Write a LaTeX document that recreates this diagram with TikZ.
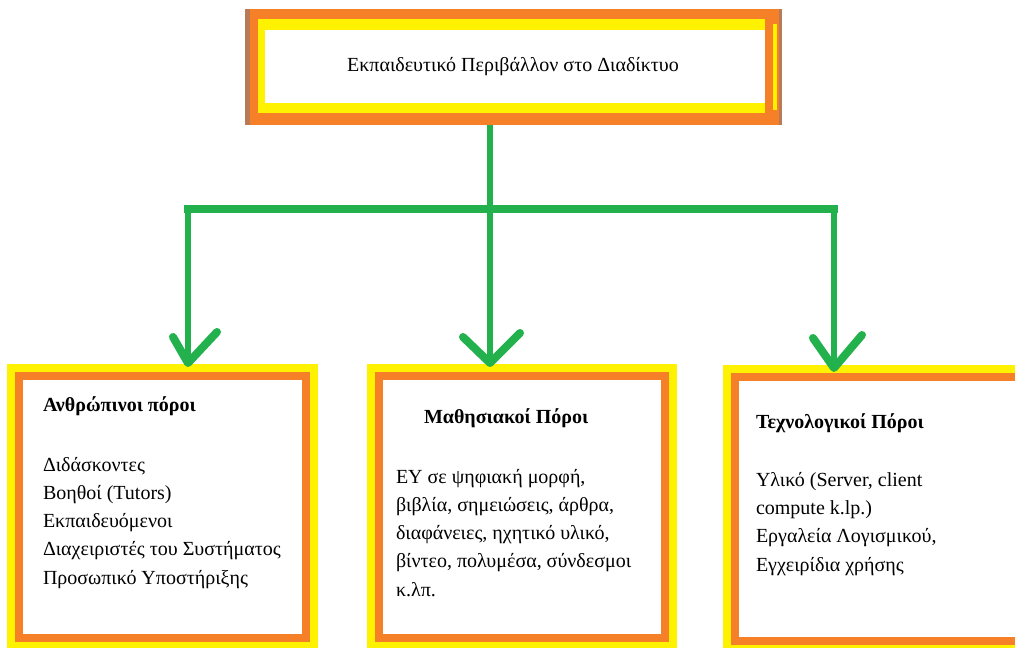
\documentclass[tikz,border=0pt]{standalone}
\usepackage{fontspec}
\setmainfont{Liberation Serif}
\usetikzlibrary{calc}
\definecolor{gr}{HTML}{22B14C}
\definecolor{og}{HTML}{F58027}
\definecolor{yl}{HTML}{FFF200}
\definecolor{br}{HTML}{B97A57}
\begin{document}
\begin{tikzpicture}[x=1pt,y=-1pt,
  box/.style={rectangle, draw=og, line width=8pt, fill=white,
    preaction={draw=yl, line width=24pt}, inner sep=0pt, outer sep=0pt,
    anchor=north west},
  txt/.style={inner sep=0pt, outer sep=0pt, align=left, anchor=base west,
    font=\fontsize{20}{28.2}\selectfont},
  ttl/.style={txt, font=\fontsize{20}{28.2}\selectfont\bfseries},
  vline/.style={draw=gr, line width=6pt},
  hbar/.style={draw=gr, line width=8pt, line cap=rect},
  arm/.style={draw=gr, line width=8pt, line cap=round, line join=round}]
\useasboundingbox (0,0) rectangle (1015,648);
\clip (0,0) rectangle (1015,648);
\fill[white] (0,0) rectangle (1015,648);

% top box
\node[rectangle, fill=br, inner sep=0pt, outer sep=0pt, anchor=north west,
  minimum width=537pt, minimum height=116pt] (top) at (245,9) {};
\fill[og] (250,9) rectangle (779,125);
\fill[yl] (258,19) rectangle (765,113);
\fill[white] (265,30) rectangle (765,103);
\fill[yl] (773,24) rectangle (777,110);
\node[inner sep=0pt, anchor=base, font=\fontsize{20}{24}\selectfont] (title) at (513,71)
  {Εκπαιδευτικό Περιβάλλον στο Διαδίκτυο};

% bottom boxes
\node[box, minimum width=287pt, minimum height=262pt] (L) at (19,376) {};
\node[box, minimum width=286pt, minimum height=262pt] (M) at (379,376) {};
\node[box, minimum width=305pt, minimum height=264pt] (R) at (735,377) {};

% texts (base anchor = baseline of the last line)
\node[ttl] (Lt) at (43,411) {Ανθρώπινοι πόροι};
\node[txt] (Lb) at (43,584) {Διδάσκοντες\\Βοηθοί (Tutors)\\Εκπαιδευόμενοι\\Διαχειριστές του Συστήματος\\Προσωπικό Υποστήριξης};
\node[ttl] (Mt) at (424,423) {Μαθησιακοί Πόροι};
\node[txt] (Mb) at (396,596) {ΕΥ σε ψηφιακή μορφή,\\βιβλία, σημειώσεις, άρθρα,\\διαφάνειες, ηχητικό υλικό,\\βίντεο, πολυμέσα, σύνδεσμοι\\κ.λπ.};
\node[ttl] (Rt) at (756,428) {Τεχνολογικοί Πόροι};
\node[txt] (Rb) at (756,571) {Υλικό (Server, client\\compute k.lp.)\\Εργαλεία Λογισμικού,\\Εγχειρίδια χρήσης};

% connectors
\coordinate (bus) at (490,209);
\coordinate (busL) at (188,209);
\coordinate (busR) at (834,209);
\coordinate (tipL) at (188,363);
\coordinate (tipM) at (490,363);
\coordinate (tipR) at (834,368);
\draw[vline] (top.south -| bus) -- (bus);
\draw[hbar] (busL) -- (busR);
\draw[vline] (busL) -- (tipL);
\draw[vline] (bus) -- (tipM);
\draw[vline] (busR) -- (tipR);
\draw[arm] ($(tipL)+(-15,-26)$) -- (tipL) -- ($(tipL)+(29,-31)$);
\draw[arm] ($(tipM)+(-27,-26)$) -- (tipM) -- ($(tipM)+(30,-30)$);
\draw[arm] ($(tipR)+(-21,-30)$) -- (tipR) -- ($(tipR)+(28,-33)$);
\end{tikzpicture}
\end{document}
